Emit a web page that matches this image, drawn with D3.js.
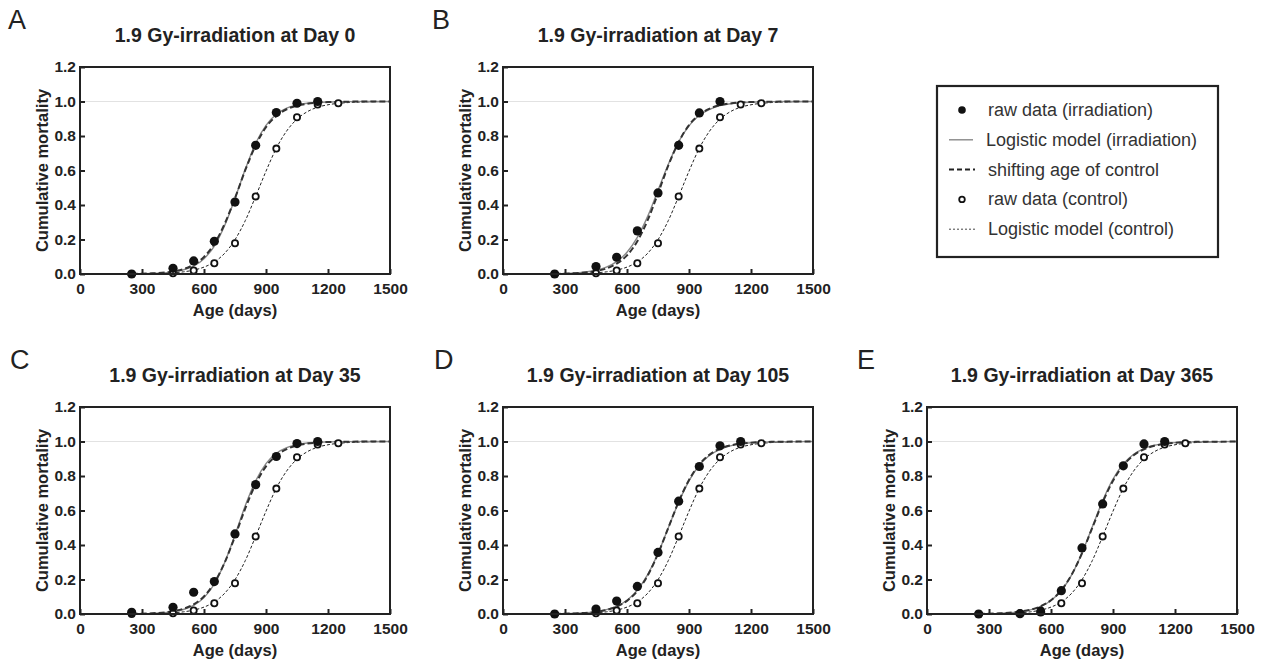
<!DOCTYPE html>
<html>
<head>
<meta charset="utf-8">
<script src="https://cdn.jsdelivr.net/npm/d3@7"></script>
<style>
  html, body { margin: 0; padding: 0; background: #fff; }
  svg { display: block; font-family: "Liberation Sans", Arial, sans-serif; }
</style>
</head>
<body>
<div id="chart"></div>
<script>
// ages (days) of the raw data points
const irrAges = [250, 450, 550, 650, 750, 850, 950, 1050, 1150];
const ctrlAges = [250, 450, 550, 650, 750, 850, 950, 1050, 1150, 1250];

// raw control data, same in all panels
const ctrlRaw = [0, 0.004, 0.02, 0.062, 0.178, 0.45, 0.727, 0.909, 0.983, 0.99];

// raw irradiation data per panel
const irrRawA = [0, 0.033, 0.076, 0.19, 0.417, 0.746, 0.936, 0.99, 1.0];
const irrRawB = [0, 0.043, 0.097, 0.25, 0.47, 0.746, 0.934, 1.0];
const irrRawC = [0.01, 0.039, 0.126, 0.188, 0.464, 0.75, 0.913, 0.988, 1.0];
const irrRawD = [0, 0.029, 0.075, 0.16, 0.357, 0.654, 0.855, 0.975, 1.0];
const irrRawE = [0, 0.002, 0.012, 0.135, 0.383, 0.638, 0.859, 0.986, 1.0];

// curves at these ages
const curveAges = [250, 350, 450, 500, 550, 600, 650, 700, 750, 800, 850, 900, 950, 1000, 1050, 1100, 1150, 1200, 1300, 1400, 1500];

const ctrlModel = [0.0006, 0.002, 0.007, 0.0125, 0.0225, 0.04, 0.07, 0.12, 0.199, 0.31, 0.45, 0.596, 0.729, 0.829, 0.898, 0.941, 0.967, 0.981, 0.994, 0.998, 1.0];

const irrModelA = [0.0008, 0.003, 0.012, 0.024, 0.046, 0.089, 0.162, 0.281, 0.438, 0.608, 0.758, 0.862, 0.926, 0.962, 0.98, 0.99, 0.995, 0.9975, 0.999, 1.0, 1.0];
const shiftA = [0.0011, 0.004, 0.015, 0.028, 0.054, 0.099, 0.175, 0.291, 0.44, 0.603, 0.746, 0.851, 0.916, 0.955, 0.976, 0.987, 0.9935, 0.9966, 0.999, 1.0, 1.0];

const irrModelB = [0.0018, 0.0063, 0.022, 0.04, 0.072, 0.126, 0.212, 0.334, 0.485, 0.636, 0.767, 0.859, 0.92, 0.955, 0.976, 0.987, 0.993, 0.996, 0.999, 1.0, 1.0];
const shiftB = [0.0013, 0.0045, 0.017, 0.032, 0.06, 0.108, 0.19, 0.312, 0.467, 0.629, 0.765, 0.863, 0.924, 0.959, 0.979, 0.989, 0.994, 0.997, 0.999, 1.0, 1.0];

const irrModelC = [0.0008, 0.0033, 0.013, 0.026, 0.05, 0.095, 0.174, 0.298, 0.458, 0.629, 0.772, 0.872, 0.932, 0.965, 0.982, 0.991, 0.995, 0.998, 0.999, 1.0, 1.0];
const shiftC = [0.0011, 0.0042, 0.016, 0.03, 0.056, 0.102, 0.181, 0.298, 0.45, 0.613, 0.754, 0.856, 0.919, 0.956, 0.977, 0.988, 0.994, 0.997, 0.999, 1.0, 1.0];

const irrModelD = [0.0012, 0.0041, 0.014, 0.025, 0.045, 0.08, 0.138, 0.228, 0.352, 0.5, 0.648, 0.772, 0.862, 0.92, 0.955, 0.975, 0.986, 0.9925, 0.998, 0.999, 1.0];
const shiftD = [0.001, 0.0036, 0.012, 0.023, 0.042, 0.076, 0.133, 0.223, 0.349, 0.5, 0.651, 0.777, 0.867, 0.924, 0.958, 0.977, 0.988, 0.9933, 0.998, 0.9994, 1.0];

const irrModelE = [0.0011, 0.0037, 0.013, 0.024, 0.043, 0.078, 0.136, 0.227, 0.354, 0.506, 0.657, 0.782, 0.87, 0.926, 0.959, 0.978, 0.988, 0.9935, 0.998, 0.9995, 1.0];
const shiftE = [0.0012, 0.0041, 0.014, 0.025, 0.045, 0.08, 0.138, 0.228, 0.352, 0.5, 0.648, 0.772, 0.862, 0.92, 0.955, 0.975, 0.986, 0.9925, 0.998, 0.999, 1.0];

const panelLetters = ["A", "B", "C", "D", "E"];
const panelDays = [0, 7, 35, 105, 365];

const xTicks = [0, 300, 600, 900, 1200, 1500];
const yTicks = [0, 0.2, 0.4, 0.6, 0.8, 1.0, 1.2];

const legendLabels = [
    "raw data (irradiation)",
    "Logistic model (irradiation)",
    "shifting age of control",
    "raw data (control)",
    "Logistic model (control)"
];

const panels = [
    { letter: panelLetters[0], day: panelDays[0], raw: irrRawA, model: irrModelA, shift: shiftA, left: 80, top: 67, lx: 8, ly: 29 },
    { letter: panelLetters[1], day: panelDays[1], raw: irrRawB, model: irrModelB, shift: shiftB, left: 503, top: 67, lx: 432, ly: 29 },
    { letter: panelLetters[2], day: panelDays[2], raw: irrRawC, model: irrModelC, shift: shiftC, left: 80, top: 407, lx: 10, ly: 369 },
    { letter: panelLetters[3], day: panelDays[3], raw: irrRawD, model: irrModelD, shift: shiftD, left: 503, top: 407, lx: 434, ly: 369 },
    { letter: panelLetters[4], day: panelDays[4], raw: irrRawE, model: irrModelE, shift: shiftE, left: 927, top: 407, lx: 857, ly: 369 }
];

const W = 1261, H = 663;
const pw = 310, ph = 207;
const ink = "#222";

const svg = d3.select("#chart").append("svg")
    .attr("width", W)
    .attr("height", H);

svg.append("rect").attr("width", W).attr("height", H).attr("fill", "#fff");

const x = d3.scaleLinear().domain([0, 1500]).range([0, pw]);
const y = d3.scaleLinear().domain([0, 1.2]).range([ph, 0]);

const line = d3.line()
    .x(d => x(d[0]))
    .y(d => y(d[1]))
    .curve(d3.curveMonotoneX);

panels.forEach(p => {
    // panel letter
    svg.append("text")
        .attr("x", p.lx)
        .attr("y", p.ly)
        .attr("font-size", 27)
        .attr("fill", ink)
        .text(p.letter);

    const g = svg.append("g")
        .attr("transform", `translate(${p.left}, ${p.top})`);

    // title
    g.append("text")
        .attr("x", pw / 2)
        .attr("y", -25)
        .attr("text-anchor", "middle")
        .attr("font-size", 19.5)
        .attr("font-weight", "bold")
        .attr("fill", ink)
        .text(`1.9 Gy-irradiation at Day ${p.day}`);

    // reference line at 1.0
    g.append("line")
        .attr("x1", 0).attr("x2", pw)
        .attr("y1", y(1)).attr("y2", y(1))
        .attr("stroke", "#e2e2e2")
        .attr("stroke-width", 1);

    // curves
    g.append("path")
        .datum(curveAges.map((a, i) => [a, ctrlModel[i]]))
        .attr("d", line)
        .attr("fill", "none")
        .attr("stroke", "#222")
        .attr("stroke-width", 1)
        .attr("stroke-dasharray", "3,2");

    g.append("path")
        .datum(curveAges.map((a, i) => [a, p.model[i]]))
        .attr("d", line)
        .attr("fill", "none")
        .attr("stroke", "#888")
        .attr("stroke-width", 1.4);

    g.append("path")
        .datum(curveAges.map((a, i) => [a, p.shift[i]]))
        .attr("d", line)
        .attr("fill", "none")
        .attr("stroke", "#333")
        .attr("stroke-width", 2)
        .attr("stroke-dasharray", "6,3");

    // raw points
    g.selectAll("circle.ctrl")
        .data(ctrlAges.map((a, i) => [a, ctrlRaw[i]]))
        .enter()
        .append("circle")
        .attr("class", "ctrl")
        .attr("cx", d => x(d[0]))
        .attr("cy", d => y(d[1]))
        .attr("r", 3.1)
        .attr("fill", "#fff")
        .attr("stroke", "#111")
        .attr("stroke-width", 1.8);

    g.selectAll("circle.irr")
        .data(p.raw.map((v, i) => [irrAges[i], v]))
        .enter()
        .append("circle")
        .attr("class", "irr")
        .attr("cx", d => x(d[0]))
        .attr("cy", d => y(d[1]))
        .attr("r", 4.6)
        .attr("fill", "#111");

    // axes
    const xAxis = d3.axisBottom(x)
        .tickValues(xTicks)
        .tickFormat(d3.format("d"))
        .tickSizeInner(-5)
        .tickSizeOuter(0)
        .tickPadding(8.5);

    const yAxis = d3.axisLeft(y)
        .tickValues(yTicks)
        .tickFormat(d3.format(".1f"))
        .tickSizeInner(-5)
        .tickSizeOuter(0)
        .tickPadding(4);

    const xg = g.append("g")
        .attr("transform", `translate(0, ${ph})`)
        .call(xAxis);
    const yg = g.append("g").call(yAxis);

    [xg, yg].forEach(a => {
        a.select(".domain").remove();
        a.selectAll("line").attr("stroke", ink).attr("stroke-width", 2);
        a.selectAll("text")
            .attr("fill", ink)
            .attr("font-size", 15.5)
            .attr("font-weight", "bold")
            .attr("font-family", "Liberation Sans, Arial, sans-serif");
    });

    // frame
    g.append("rect")
        .attr("width", pw)
        .attr("height", ph)
        .attr("fill", "none")
        .attr("stroke", ink)
        .attr("stroke-width", 2);

    // axis titles
    g.append("text")
        .attr("x", pw / 2)
        .attr("y", ph + 42)
        .attr("text-anchor", "middle")
        .attr("font-size", 16.5)
        .attr("font-weight", "bold")
        .attr("fill", ink)
        .text("Age (days)");

    g.append("text")
        .attr("transform", `translate(-32, ${ph / 2}) rotate(-90)`)
        .attr("text-anchor", "middle")
        .attr("font-size", 16.5)
        .attr("font-weight", "bold")
        .attr("fill", ink)
        .text("Cumulative mortality");
});

// legend
const lg = svg.append("g").attr("transform", "translate(937, 86)");
lg.append("rect")
    .attr("width", 281)
    .attr("height", 171)
    .attr("fill", "#fff")
    .attr("stroke", ink)
    .attr("stroke-width", 2.2);

const rowY = i => 24 + i * 29.8;
const sx = 25;

lg.append("circle").attr("cx", sx).attr("cy", rowY(0)).attr("r", 3.8).attr("fill", "#111");
lg.append("line").attr("x1", 12).attr("x2", 36).attr("y1", rowY(1)).attr("y2", rowY(1))
    .attr("stroke", "#888").attr("stroke-width", 1.4);
lg.append("line").attr("x1", 12).attr("x2", 38).attr("y1", rowY(2)).attr("y2", rowY(2))
    .attr("stroke", "#222").attr("stroke-width", 2).attr("stroke-dasharray", "5,3");
lg.append("circle").attr("cx", sx).attr("cy", rowY(3)).attr("r", 2.8)
    .attr("fill", "#fff").attr("stroke", "#111").attr("stroke-width", 1.8);
lg.append("line").attr("x1", 12).attr("x2", 38).attr("y1", rowY(4)).attr("y2", rowY(4))
    .attr("stroke", "#444").attr("stroke-width", 1).attr("stroke-dasharray", "2,2");

lg.selectAll("text.lbl")
    .data(legendLabels)
    .enter()
    .append("text")
    .attr("class", "lbl")
    .attr("x", (d, i) => i === 1 ? 49 : 51)
    .attr("y", (d, i) => rowY(i) + 6)
    .attr("font-size", 18)
    .attr("fill", "#333")
    .text(d => d);
</script>
</body>
</html>
